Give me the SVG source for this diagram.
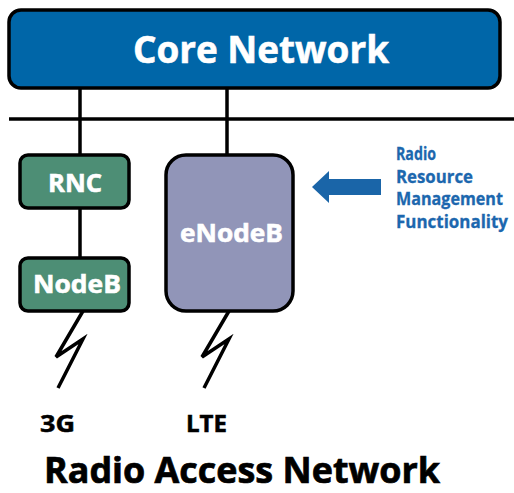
<svg xmlns="http://www.w3.org/2000/svg" width="514" height="493" viewBox="0 0 514 493">
<style>
text{font-family:"Open Sans","Noto Sans","Liberation Sans",sans-serif;font-weight:bold;}
.box{stroke:#000;stroke-width:3.5;}
.w{fill:#fff;stroke:#fff;stroke-width:0.6;}
.line{stroke:#000;stroke-width:3.5;fill:none;}
.blue{fill:#1C67AE;stroke:#1C67AE;stroke-width:0.3;font-size:17px;}
.lbl{fill:#000;stroke:#000;stroke-width:0.5;font-size:23px;}
</style>
<rect width="514" height="493" fill="#fff"/>
<g id="connectors">
<line class="line" x1="80" y1="88" x2="80" y2="156"/>
<line class="line" x1="227" y1="88" x2="227" y2="156"/>
<line class="line" x1="9" y1="119" x2="514" y2="119"/>
<line class="line" x1="80" y1="207" x2="80" y2="258"/>
<polyline class="line" stroke-linejoin="miter" points="83,311 56,357 83,339 58,388"/>
<polyline class="line" stroke-linejoin="miter" points="229,311 202,357 229,339 204,388"/>
<polygon id="arrow" fill="#1A65A8" points="312,187 329,171 329,179 381,179 381,195 329,195 329,203"/>
</g>
<g id="core">
<rect class="box" x="9" y="10" width="491" height="78" rx="12" fill="#0066A8"/>
<text class="w" x="133" y="63" font-size="38" textLength="256" lengthAdjust="spacingAndGlyphs">Core Network</text>
</g>
<g id="rnc">
<rect class="box" x="20" y="155" width="109" height="53" rx="8" fill="#4D8E75"/>
<text class="w" x="48" y="192" font-size="25" textLength="54" lengthAdjust="spacingAndGlyphs">RNC</text>
</g>
<g id="nodeb">
<rect class="box" x="20" y="258" width="109" height="53" rx="8" fill="#4D8E75"/>
<text class="w" x="33" y="293" font-size="25" textLength="88" lengthAdjust="spacingAndGlyphs">NodeB</text>
</g>
<g id="enodeb">
<rect class="box" x="166" y="155" width="127" height="156" rx="20" fill="#9195B8"/>
<text class="w" x="180" y="242" font-size="25" textLength="103" lengthAdjust="spacingAndGlyphs">eNodeB</text>
</g>
<g id="rrm">
<text class="blue" x="396" y="160" textLength="40" lengthAdjust="spacingAndGlyphs">Radio</text>
<text class="blue" x="396" y="183" textLength="77" lengthAdjust="spacingAndGlyphs">Resource</text>
<text class="blue" x="396" y="205" textLength="107" lengthAdjust="spacingAndGlyphs">Management</text>
<text class="blue" x="396" y="228" textLength="112" lengthAdjust="spacingAndGlyphs">Functionality</text>
</g>
<text class="lbl" x="40" y="432" textLength="35" lengthAdjust="spacingAndGlyphs">3G</text>
<text class="lbl" x="186" y="432" textLength="41" lengthAdjust="spacingAndGlyphs">LTE</text>
<text x="44" y="483" font-size="36" fill="#000" stroke="#000" stroke-width="0.7" textLength="396" lengthAdjust="spacingAndGlyphs">Radio Access Network</text>
</svg>
